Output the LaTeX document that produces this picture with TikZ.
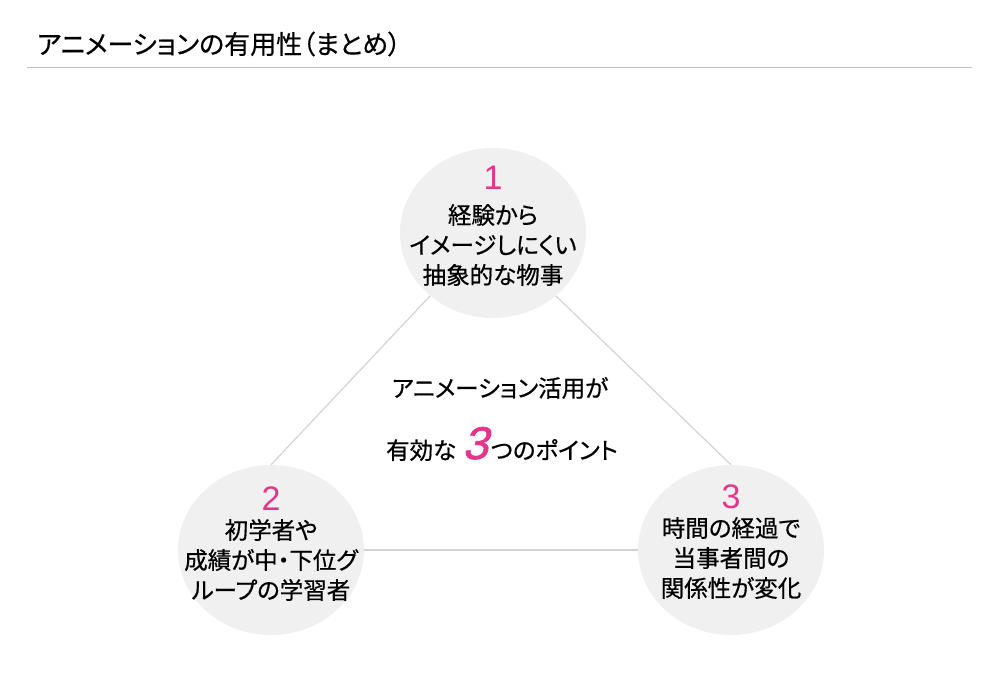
\documentclass[tikz,border=0pt]{standalone}
\usepackage{fontspec}
\setmainfont{Noto Sans CJK JP}
\newfontfamily\jpfont[RawFeature=+palt,FakeBold=0.6]{Noto Sans CJK JP}
\newfontfamily\titlefont[RawFeature=+palt,FakeBold=0.5]{Noto Sans CJK JP}
\newfontfamily\numfont{Liberation Sans}
\newfontfamily\bignumfont[FakeSlant=0.25,FakeBold=1.5]{Liberation Sans}
\usetikzlibrary{shapes.geometric}
\usepackage{xcolor}
\definecolor{pointpink}{HTML}{E5348A}
\definecolor{circlegray}{HTML}{F0F0F0}
\definecolor{linegray}{HTML}{D4D4D4}

\begin{document}
\begin{tikzpicture}[x=1pt, y=-1pt,
  point/.style={ellipse, fill=circlegray, minimum width=186pt, minimum height=170pt, inner sep=0pt},
  pointnum/.style={text=pointpink, font=\numfont\fontsize{34}{34}\selectfont, inner sep=0pt},
  pointtext/.style={align=center, font=\jpfont\fontsize{23.5}{30}\selectfont, inner sep=0pt},
  link/.style={draw=linegray, line width=1.2pt}]
  \useasboundingbox (0,0) rectangle (1000,685);
  % title
  \node[anchor=west, inner sep=0pt, font=\titlefont\fontsize{26}{26}\selectfont] (title) at (37,44) {アニメーションの有用性（まとめ）};
  \draw[draw=black!25, line width=1pt] (27,67) -- (972,67);
  % circles
  \node[point] (c1) at (493,233) {};
  \node[point] (c2) at (271,550) {};
  \node[point] (c3) at (731,550) {};
  \draw[link] (c1.225) -- (c2.north);
  \draw[link] (c1.-45) -- (c3.north);
  \draw[link] (c2.east) -- (c3.west);
  \node[pointnum] (n1) at (493,178) {1};
  \node[pointnum] (n2) at (271,499) {2};
  \node[pointnum] (n3) at (731,497) {3};
  \node[pointtext] (t1) at (493,245) {経験から\\イメージしにくい\\抽象的な物事};
  \node[pointtext] (t2) at (271,560) {初学者や\\成績が中・下位グ\\ループの学習者};
  \node[pointtext] (t3) at (731,558) {時間の経過で\\当事者間の\\関係性が変化};
  % center
  \node[pointtext] (head) at (500,388) {アニメーション活用が};
  \node[pointtext] (sub) at (502,444) {有効な\hspace{6pt}{\bignumfont\color{pointpink}\fontsize{46}{46}\selectfont 3}\hspace{3pt}つのポイント};
\end{tikzpicture}
\end{document}
